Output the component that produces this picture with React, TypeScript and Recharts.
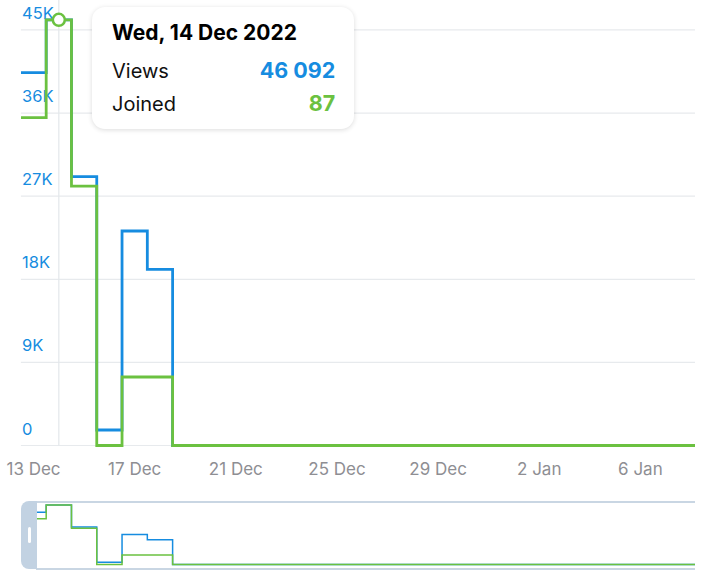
import React from 'react';
import { LineChart, Line, XAxis, YAxis, ReferenceLine, ReferenceDot } from 'recharts';

const dates = [
  '13 Dec', '14 Dec', '15 Dec', '16 Dec', '17 Dec', '18 Dec', '19 Dec', '20 Dec', '21 Dec', '22 Dec',
  '23 Dec', '24 Dec', '25 Dec', '26 Dec', '27 Dec', '28 Dec', '29 Dec', '30 Dec', '31 Dec', '1 Jan',
  '2 Jan', '3 Jan', '4 Jan', '5 Jan', '6 Jan', '7 Jan', '8 Jan', '9 Jan',
];
const views = [
  40380, 46092, 29110, 1680, 23230, 19080, 0, 0, 0, 0,
  0, 0, 0, 0, 0, 0, 0, 0, 0, 0,
  0, 0, 0, 0, 0, 0, 0, 0,
];
const joined = [
  67, 87, 53, 0, 14, 14, 0, 0, 0, 0,
  0, 0, 0, 0, 0, 0, 0, 0, 0, 0,
  0, 0, 0, 0, 0, 0, 0, 0,
];
const tickLabels = ['13 Dec', '17 Dec', '21 Dec', '25 Dec', '29 Dec', '2 Jan', '6 Jan'];
const viewTicks = [0, 9000, 18000, 27000, 36000, 45000];
const viewTickLabels = ['0', '9K', '18K', '27K', '36K', '45K'];
const tooltipIndex = 1;
const tooltipTitle = 'Wed, 14 Dec 2022';

const BLUE = '#168ce0';
const GREEN = '#6bc140';
const FONT = 'Inter, "Noto Sans", sans-serif';

const data = dates.map((date, i) => ({ d: i, date, views: views[i], joined: joined[i] }));
const tickPositions = tickLabels.map((l) => dates.indexOf(l) + 0.5);
const X_DOMAIN: [number, number] = [0, 26.66];

const fmt = (n: number) => String(n).replace(/\B(?=(\d{3})+(?!\d))/g, ' ');

const makeYLabel = (text: string) => (props: any) => {
  const vb = props.viewBox || {};
  return (
    <text x={22} y={vb.y - 11} fill={BLUE} fontSize={16.5} fontFamily={FONT}>
      {text}
    </text>
  );
};

const XTick = (props: any) => {
  const { x, y, payload } = props;
  const i = tickPositions.indexOf(payload.value);
  return (
    <text x={x} y={y + 29.5} fill="#8e8e93" fontSize={17} fontFamily={FONT} textAnchor="middle">
      {tickLabels[i]}
    </text>
  );
};

export default function App() {
  return (
    <div style={{ position: 'absolute', left: 0, top: 0, width: 709, height: 575, background: '#fff', overflow: 'hidden' }}>
      <div style={{ position: 'absolute', left: 0, top: 0 }}>
        <LineChart width={709} height={480} data={data} margin={{ top: 11.5, right: 14, left: 20.9, bottom: 0 }}>
          <XAxis
            dataKey="d"
            type="number"
            domain={X_DOMAIN}
            allowDataOverflow
            ticks={tickPositions}
            interval={0}
            axisLine={false}
            tickLine={false}
            tickSize={0}
            tickMargin={0}
            height={34.5}
            tick={<XTick />}
          />
          <YAxis yAxisId="v" domain={[0, 47000]} hide />
          <YAxis yAxisId="j" domain={[0, 88.71]} hide />
          {viewTicks.map((t, i) => (
            <ReferenceLine
              key={t}
              yAxisId="v"
              y={t}
              stroke="#e7eaed"
              strokeWidth={1.2}
              label={makeYLabel(viewTickLabels[i])}
            />
          ))}
          <ReferenceLine
            yAxisId="v"
            segment={[{ x: tooltipIndex + 0.5, y: 0 }, { x: tooltipIndex + 0.5, y: 49000 }]}
            stroke="#e3e7eb"
            strokeWidth={1.2}
            ifOverflow="visible"
          />
          <Line yAxisId="v" type="stepAfter" dataKey="views" stroke={BLUE} strokeWidth={2.8} dot={false} activeDot={false} isAnimationActive={false} />
          <Line yAxisId="j" type="stepAfter" dataKey="joined" stroke={GREEN} strokeWidth={2.8} dot={false} activeDot={false} isAnimationActive={false} />
          <ReferenceDot
            yAxisId="j"
            x={tooltipIndex + 0.5}
            y={joined[tooltipIndex]}
            r={6}
            fill="#fff"
            stroke={GREEN}
            strokeWidth={2.5}
            ifOverflow="visible"
          />
        </LineChart>
      </div>

      {/* navigator */}
      <div style={{ position: 'absolute', left: 0, top: 495 }}>
        <LineChart width={709} height={75} data={data} margin={{ top: 5, right: 14, left: 20.9, bottom: 5.5 }}>
          <XAxis dataKey="d" type="number" domain={X_DOMAIN} allowDataOverflow hide />
          <YAxis yAxisId="v" domain={[0, 49965]} hide />
          <YAxis yAxisId="j" domain={[0, 94.31]} hide />
          <Line yAxisId="v" type="stepAfter" dataKey="views" stroke={BLUE} strokeWidth={1.5} dot={false} activeDot={false} isAnimationActive={false} />
          <Line yAxisId="j" type="stepAfter" dataKey="joined" stroke={GREEN} strokeWidth={1.5} dot={false} activeDot={false} isAnimationActive={false} />
        </LineChart>
      </div>
      <div style={{ position: 'absolute', left: 36, top: 501, width: 659, height: 1.5, background: '#c9d6e3' }} />
      <div style={{ position: 'absolute', left: 36, top: 568, width: 659, height: 1.5, background: '#c9d6e3' }} />
      <div
        style={{
          position: 'absolute',
          left: 21,
          top: 500.7,
          width: 16.3,
          height: 68.8,
          background: '#c2d2e2',
          borderTopLeftRadius: 8,
          borderBottomLeftRadius: 8,
        }}
      />
      <div style={{ position: 'absolute', left: 27.8, top: 526.7, width: 3.2, height: 16.6, background: '#fff', borderRadius: 1.6 }} />

      {/* tooltip */}
      <div
        style={{
          position: 'absolute',
          left: 91.7,
          top: 6.7,
          width: 262.3,
          height: 122.3,
          background: '#fff',
          borderRadius: 13,
          boxShadow: '0 1px 5px rgba(0,0,0,0.14)',
        }}
      >
        <svg width={262.3} height={122.3} style={{ position: 'absolute', left: 0, top: 0 }}>
          <text x={20} y={32.6} fontFamily={FONT} fontWeight={700} fontSize={21} fill="#000">
            {tooltipTitle}
          </text>
          <text x={20} y={70.6} fontFamily={FONT} fontSize={20} fill="#111">Views</text>
          <text x={243.3} y={70.6} fontFamily={FONT} fontWeight={700} fontSize={21.5} fill={BLUE} textAnchor="end">
            {fmt(views[tooltipIndex])}
          </text>
          <text x={20} y={103.8} fontFamily={FONT} fontSize={20} fill="#111">Joined</text>
          <text x={243.3} y={103.8} fontFamily={FONT} fontWeight={700} fontSize={21.5} fill={GREEN} textAnchor="end">
            {fmt(joined[tooltipIndex])}
          </text>
        </svg>
      </div>
    </div>
  );
}
